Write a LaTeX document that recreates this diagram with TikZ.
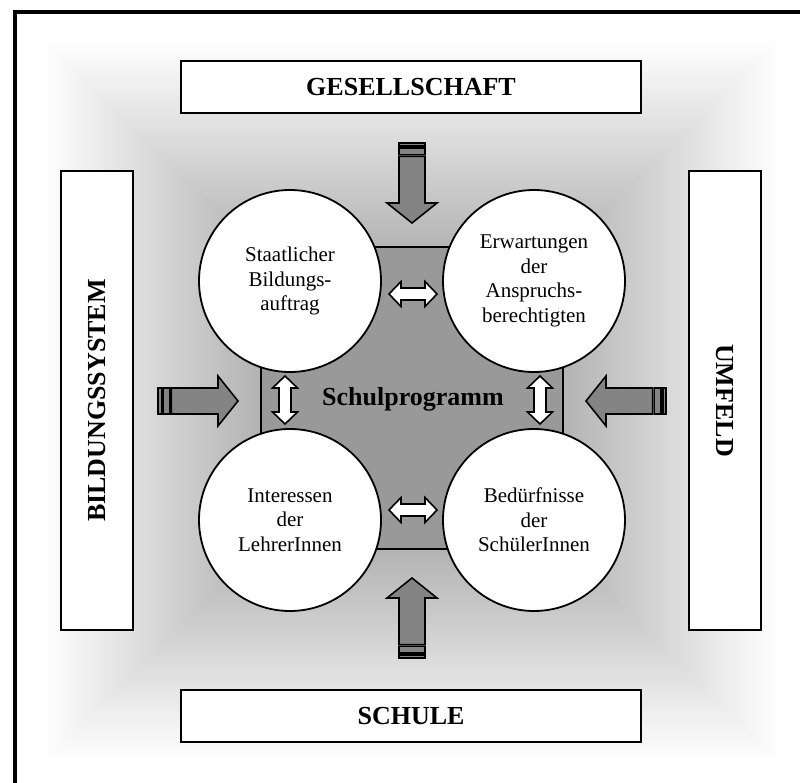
\documentclass[tikz,border=0pt]{standalone}
\usepackage{fontspec}
\setmainfont{Liberation Serif}
\definecolor{sqgray}{HTML}{999999}
\definecolor{argray}{HTML}{848484}
\tikzset{
  labelbox/.style={draw=black, line width=1.6pt, fill=white, inner sep=0pt,
    font=\fontsize{26}{30}\selectfont\bfseries},
  circ/.style={circle, draw=black, line width=1.8pt, fill=white, minimum size=182pt,
    inner sep=0pt, align=center, font=\fontsize{21}{24.5}\selectfont},
  sqbox/.style={rectangle, draw=black, line width=1.4pt, fill=sqgray, inner sep=0pt},
  arrowstyle/.style={draw=black, line width=1.6pt, fill=argray, line join=miter},
  dblstyle/.style={draw=black, line width=1.6pt, fill=white, line join=miter},
  sarrow/.pic={
    \filldraw[arrowstyle] (0,-13) rectangle (3.3,13);
    \filldraw[arrowstyle] (5,-13) rectangle (11.7,13);
    \filldraw[arrowstyle] (13.3,-13) -- (60,-13) -- (60,-25) -- (80,0) -- (60,25) -- (60,13) -- (13.3,13) -- cycle;
  },
  dblarrow/.pic={
    \filldraw[dblstyle] (-24,0) -- (-12,12.5) -- (-12,6) -- (12,6) -- (12,12.5) -- (24,0)
      -- (12,-12.5) -- (12,-6) -- (-12,-6) -- (-12,-12.5) -- cycle;
  }
}
\begin{document}
\begin{tikzpicture}[x=1pt,y=-1pt]
\useasboundingbox (0,0) rectangle (800,783);
\clip (0,0) rectangle (800,783);
% background gradient (rectangular)
\foreach \i in {0,...,159}{
  \pgfmathsetmacro\s{1-\i/160}
  \pgfmathsetmacro\d{max(0,(1-\s-0.07))*140/2.55}
  \fill[black!\d] ({411-396.5*\s},{401-388.5*\s}) rectangle ({411+396.5*\s},{401+388.5*\s});
}
% frame
\draw[line width=4pt] (14.5,12.5) rectangle (807.5,789.5);
% outer boxes
\node[labelbox, minimum width=460pt, minimum height=52pt] (ges) at (411,87) {GESELLSCHAFT};
\node[labelbox, minimum width=460pt, minimum height=52pt] (sch) at (411,716) {SCHULE};
\node[labelbox, minimum width=459pt, minimum height=72pt, rotate=90] (bil) at (97,400.5) {BILDUNGSSYSTEM};
\node[labelbox, minimum width=459pt, minimum height=72pt, rotate=-90] (umf) at (725,400.5) {UMFELD};
% central square
\node[sqbox, minimum size=302pt] (sq) at (412,398) {};
% block arrows
\pic[rotate=-90] at (412,143) {sarrow};
\pic[rotate=90] at (412,658) {sarrow};
\pic at (158,401) {sarrow};
\pic[rotate=180] at (666,401) {sarrow};
% circles
\node[circ] (c1) at (290,281) {Staatlicher\\Bildungs-\\auftrag};
\node[circ] (c2) at (534,281) {Erwartungen\\der\\Anspruchs-\\berechtigten};
\node[circ] (c3) at (290,520) {Interessen\\der\\LehrerInnen};
\node[circ] (c4) at (534,520) {Bedürfnisse\\der\\SchülerInnen};
% double arrows
\pic at (413,294) {dblarrow};
\pic at (413,510) {dblarrow};
\pic[rotate=90] at (285,400) {dblarrow};
\pic[rotate=90] at (540,400) {dblarrow};
% title
\node[font=\fontsize{26}{30}\selectfont\bfseries] (sp) at (413,399) {Schulprogramm};
\end{tikzpicture}
\end{document}
